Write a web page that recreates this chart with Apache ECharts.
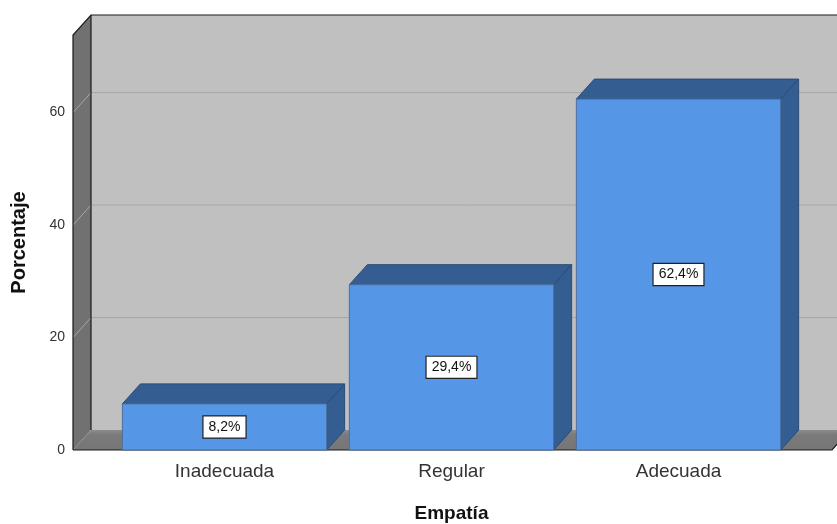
<!DOCTYPE html>
<html>
<head>
<meta charset="utf-8">
<title>Empatía</title>
<script src="https://cdn.jsdelivr.net/npm/echarts@6/dist/echarts.min.js"></script>
<style>
  html, body { margin: 0; padding: 0; background: #ffffff; }
  #chart { width: 837px; height: 524px; }
</style>
</head>
<body>
<div id="chart"></div>
<script>
// Chart data
const categories = ['Inadecuada', 'Regular', 'Adecuada'];
const percentages = [8.2, 29.4, 62.4];
const yTicks = [0, 20, 40, 60];
const yMax = 73.8;

// 3D look: depth offset of the back plane
const DX = 18, DY = -20;
const FONT = "'Liberation Sans', Arial, sans-serif";

const chart = echarts.init(document.getElementById('chart'), null, { renderer: 'canvas' });

function renderFrame(params, api) {
  const cs = params.coordSys;
  const x0 = cs.x - 38;
  const x1 = cs.x + cs.width + 40;
  const yt = cs.y;
  const yb = cs.y + cs.height;
  const children = [];

  // back wall
  children.push({
    type: 'rect',
    shape: { x: x0 + DX, y: yt + DY, width: 1000, height: cs.height },
    style: { fill: '#c0c0c0' }
  });
  // gridlines on back wall
  yTicks.forEach(function (v) {
    if (v === 0) return;
    const y = api.coord([0, v])[1];
    children.push({
      type: 'line',
      shape: { x1: x0 + DX, y1: y + DY, x2: x1 + DX + 60, y2: y + DY },
      style: { stroke: '#a6a6a6', lineWidth: 1 }
    });
  });
  // left wall
  children.push({
    type: 'polygon',
    shape: { points: [[x0, yt], [x0 + DX, yt + DY], [x0 + DX, yb + DY], [x0, yb]] },
    style: { fill: '#717171' }
  });
  // gridlines across left wall
  yTicks.forEach(function (v) {
    if (v === 0) return;
    const y = api.coord([0, v])[1];
    children.push({
      type: 'line',
      shape: { x1: x0, y1: y, x2: x0 + DX, y2: y + DY },
      style: { stroke: '#a8a8a8', lineWidth: 1 }
    });
  });
  // floor
  children.push({
    type: 'polygon',
    shape: { points: [[x0, yb], [x0 + DX, yb + DY], [x1 + DX, yb + DY], [x1, yb]] },
    style: {
      fill: new echarts.graphic.LinearGradient(0, 0, 0, 1, [
        { offset: 0, color: '#8c8c8c' },
        { offset: 0.25, color: '#7a7a7a' },
        { offset: 1, color: '#767676' }
      ])
    }
  });
  // edges
  children.push({
    type: 'line',
    shape: { x1: x0 + DX, y1: yt + DY, x2: x0 + DX, y2: yb + DY },
    style: { stroke: '#1a1a1a', lineWidth: 1.2 }
  });
  children.push({
    type: 'polyline',
    shape: { points: [[x0, yb], [x0, yt], [x0 + DX, yt + DY], [x1 + DX + 60, yt + DY]] },
    style: { stroke: '#1a1a1a', lineWidth: 1.2, fill: null }
  });
  children.push({
    type: 'polyline',
    shape: { points: [[x0, yb], [x1, yb], [x1 + DX, yb + DY]] },
    style: { stroke: '#1a1a1a', lineWidth: 1.2, fill: null }
  });
  return { type: 'group', children: children };
}

function renderBar(params, api) {
  const idx = api.value(0);
  const val = api.value(1);
  const top = api.coord([idx, val]);
  const base = api.coord([idx, 0]);
  const w = api.size([1, 0])[0] * 0.9;
  const xl = top[0] - w / 2, xr = top[0] + w / 2;
  const yt = top[1], yb = base[1];
  const label = val.toFixed(1).replace('.', ',') + '%';
  return {
    type: 'group',
    children: [
      {
        type: 'polygon',
        shape: { points: [[xl, yt], [xl + DX, yt + DY], [xr + DX, yt + DY], [xr, yt]] },
        style: { fill: '#345d92', stroke: '#2a4b78', lineWidth: 1 }
      },
      {
        type: 'polygon',
        shape: { points: [[xr, yt], [xr + DX, yt + DY], [xr + DX, yb + DY], [xr, yb]] },
        style: { fill: '#345d92', stroke: '#2a4b78', lineWidth: 1 }
      },
      {
        type: 'rect',
        shape: { x: xl, y: yt, width: w, height: yb - yt },
        style: { fill: '#5596e6', stroke: '#4b6f9e', lineWidth: 1 }
      },
      {
        type: 'text',
        x: top[0],
        y: (yt + yb) / 2,
        style: {
          text: label,
          font: '14px ' + FONT,
          fill: '#111111',
          align: 'center',
          verticalAlign: 'middle',
          backgroundColor: '#ffffff',
          borderColor: '#222222',
          borderWidth: 1.2,
          padding: [4, 5, 3, 5]
        }
      }
    ]
  };
}

const option = {
  backgroundColor: '#ffffff',
  animation: false,
  grid: { left: 111, right: 45, top: 35, bottom: 74, outerBoundsMode: 'none', containLabel: false },
  xAxis: {
    type: 'category',
    data: categories,
    name: 'Empatía',
    nameLocation: 'middle',
    nameGap: 54,
    nameTextStyle: { fontFamily: FONT, fontSize: 19, fontWeight: 'bold', color: '#111111' },
    axisLine: { show: false },
    axisTick: { show: false },
    axisLabel: { fontFamily: FONT, fontSize: 19, color: '#333333', margin: 12 },
    splitLine: { show: false }
  },
  yAxis: {
    type: 'value',
    min: 0,
    max: yMax,
    interval: 20,
    name: 'Porcentaje',
    nameLocation: 'middle',
    nameGap: 82,
    nameTextStyle: { fontFamily: FONT, fontSize: 20, fontWeight: 'bold', color: '#111111' },
    axisLine: { show: false },
    axisTick: { show: false },
    splitLine: { show: false },
    axisLabel: {
      fontFamily: FONT,
      fontSize: 14,
      color: '#333333',
      margin: 46,
      padding: [6, 0, 0, 0],
      formatter: function (v) { return yTicks.indexOf(v) >= 0 ? String(v) : ''; }
    }
  },
  series: [
    {
      type: 'custom',
      name: 'frame',
      renderItem: renderFrame,
      data: [[0, 0]],
      silent: true,
      z: 1
    },
    {
      type: 'custom',
      name: 'Porcentaje',
      renderItem: renderBar,
      data: percentages.map(function (v, i) { return [i, v]; }),
      z: 2
    }
  ]
};

chart.setOption(option);
</script>
</body>
</html>
